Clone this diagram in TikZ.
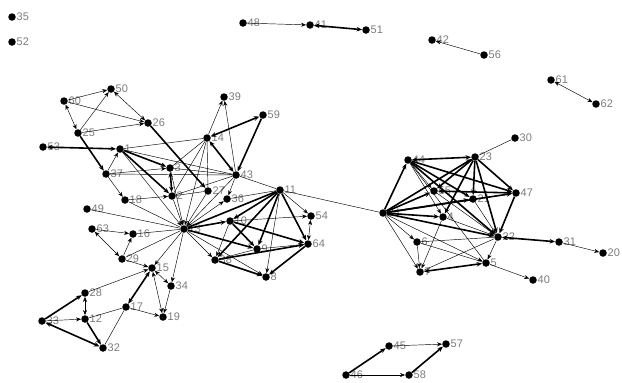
\documentclass[tikz,border=0pt]{standalone}
\usepackage{fontspec}
\setmainfont{Liberation Sans}
\usetikzlibrary{arrows.meta}
\definecolor{labgray}{RGB}{125,125,125}
\begin{document}
\begin{tikzpicture}[x=1pt,y=-1pt,
  dot/.style={circle,fill=black,inner sep=0pt,minimum size=7.5pt},
  lab/.style={text=labgray,font=\fontsize{11}{11}\selectfont,inner sep=0.5pt},
  e/.style={-{Stealth[length=5pt,width=4pt]},line width=0.45pt},
  eb/.style={{Stealth[length=5pt,width=4pt]}-{Stealth[length=5pt,width=4pt]},line width=0.45pt},
  l/.style={line width=0.45pt},
  t/.style={-{Stealth[length=5.5pt,width=4.5pt]},line width=1.6pt},
  tb/.style={{Stealth[length=5.5pt,width=4.5pt]}-{Stealth[length=5.5pt,width=4.5pt]},line width=1.6pt},
  tl/.style={line width=1.6pt}]
\useasboundingbox (0,0) rectangle (622,383);
\fill[white] (0,0) rectangle (622,383);
% nodes
\foreach \n/\x/\y in {35/12/17,52/12/42,48/243/23,41/310/25,51/366/30,42/432/40,56/484/55,61/551/80,62/596/104,
 50/111/89,60/64/101,25/78/133,26/148/123,53/43/147,1/120/149,14/207/138,39/224/97,59/263/115,43/236/175,37/106/174,
 3/170/168,2/172/196,18/125/200,27/208/191,36/227/199,11/280/190,13/184/229,10/230/221,9/257/249,38/215/260,8/266/277,
 54/311/216,64/308/244,49/87/209,63/92/229,16/133/234,29/122/259,15/152/268,34/171/286,28/85/293,17/126/307,19/163/317,
 12/85/319,33/42/321,32/103/348,44/408/160,23/475/157,30/515/138,47/516/193,55/434/191,21/473/199,24/383/213,4/443/217,
 22/498/237,6/417/242,7/420/272,5/486/263,31/559/242,20/603/253,40/533/280,45/389/346,57/446/344,46/346/375,58/409/375}
 {\node[dot,label={[lab,label distance=0pt]right:\n}] (n\n) at (\x,\y) {};}
% top
\draw[e] (n48) -- (n41);
\draw[tb] (n41) -- (n51);
\draw[e] (n56) -- (n42);
\draw[eb] (n61) -- (n62);
% left cluster
\draw[e] (n60) -- (n50);
\draw[e] (n25) -- (n50);
\draw[eb] (n60) -- (n25);
\draw[eb] (n50) -- (n26);
\draw[e] (n60) -- (n26);
\draw[e] (n25) -- (n26);
\draw[tb] (n53) -- (n1);
\draw[t] (n25) -- (n37);
\draw[e] (n37) -- (n18);
\draw[e] (n37) -- (n1);
\draw[l] (n1) -- (n14);
\draw[l] (n1) -- (n43);
\draw[t] (n1) -- (n3);
\draw[t] (n1) -- (n2);
\draw[e] (n1) -- (n13);
\draw[e] (n37) -- (n3);
\draw[l] (n37) -- (n43);
\draw[t] (n26) -- (n27);
\draw[e] (n14) -- (n39);
\draw[e] (n43) -- (n39);
\draw[tb] (n14) -- (n59);
\draw[t] (n59) -- (n43);
\draw[tb] (n14) -- (n43);
\draw[l] (n14) -- (n2);
\draw[l] (n14) -- (n3);
\draw[e] (n14) -- (n13);
\draw[l] (n14) -- (n27);
\draw[l] (n43) -- (n3);
\draw[l] (n43) -- (n2);
\draw[e] (n43) -- (n36);
\draw[l] (n43) -- (n11);
\draw[e] (n43) -- (n13);
\draw[tb] (n3) -- (n2);
\draw[e] (n18) -- (n2);
\draw[l] (n18) -- (n13);
\draw[e] (n2) -- (n13);
\draw[l] (n2) -- (n27);
\draw[l] (n27) -- (n13);
\draw[e] (n3) -- (n13);
% hub 13
\draw[l] (n49) -- (n13);
\draw[l] (n16) -- (n13);
\draw[l] (n29) -- (n13);
\draw[e] (n13) -- (n15);
\draw[e] (n13) -- (n34);
\draw[e] (n13) -- (n36);
\draw[tl] (n13) -- (n11);
\draw[t] (n13) -- (n10);
\draw[e] (n13) -- (n38);
\draw[t] (n13) -- (n9);
\draw[e] (n13) -- (n8);
% 11 cluster
\draw[e] (n11) -- (n54);
\draw[t] (n11) -- (n64);
\draw[t] (n11) -- (n10);
\draw[t] (n11) -- (n38);
\draw[t] (n11) -- (n9);
\draw[e] (n11) -- (n8);
\draw[l] (n11) -- (n24);
\draw[l] (n36) -- (n11);
\draw[e] (n10) -- (n54);
\draw[t] (n10) -- (n9);
\draw[t] (n10) -- (n64);
\draw[e] (n10) -- (n38);
\draw[t] (n38) -- (n64);
\draw[t] (n38) -- (n8);
\draw[l] (n38) -- (n9);
\draw[e] (n9) -- (n64);
\draw[eb] (n54) -- (n64);
\draw[t] (n64) -- (n8);
% lower left
\draw[e] (n63) -- (n16);
\draw[eb] (n63) -- (n29);
\draw[e] (n29) -- (n16);
\draw[e] (n28) -- (n15);
\draw[eb] (n15) -- (n34);
\draw[eb] (n15) -- (n19);
\draw[tb] (n15) -- (n17);
\draw[e] (n29) -- (n15);
\draw[e] (n34) -- (n19);
\draw[e] (n17) -- (n19);
\draw[l] (n12) -- (n17);
\draw[l] (n17) -- (n32);
\draw[eb] (n28) -- (n12);
\draw[t] (n33) -- (n28);
\draw[e] (n33) -- (n12);
\draw[tb] (n33) -- (n32);
\draw[t] (n12) -- (n32);
% right cluster
\draw[l] (n30) -- (n23);
\draw[tb] (n44) -- (n23);
\draw[t] (n44) -- (n47);
\draw[t] (n44) -- (n22);
\draw[e] (n44) -- (n55);
\draw[t] (n44) -- (n21);
\draw[e] (n44) -- (n4);
\draw[t] (n23) -- (n47);
\draw[t] (n23) -- (n22);
\draw[t] (n23) -- (n21);
\draw[t] (n23) -- (n55);
\draw[t] (n23) -- (n4);
\draw[tb] (n55) -- (n47);
\draw[e] (n55) -- (n22);
\draw[l] (n21) -- (n47);
\draw[e] (n21) -- (n22);
\draw[t] (n24) -- (n44);
\draw[t] (n24) -- (n23);
\draw[t] (n24) -- (n55);
\draw[t] (n24) -- (n21);
\draw[t] (n24) -- (n47);
\draw[t] (n24) -- (n4);
\draw[t] (n24) -- (n22);
\draw[e] (n24) -- (n6);
\draw[e] (n24) -- (n7);
\draw[e] (n24) -- (n5);
\draw[e] (n4) -- (n22);
\draw[e] (n4) -- (n7);
\draw[tb] (n22) -- (n31);
\draw[e] (n31) -- (n20);
\draw[e] (n22) -- (n5);
\draw[e] (n5) -- (n40);
\draw[tb] (n5) -- (n7);
\draw[e] (n6) -- (n7);
\draw[l] (n6) -- (n5);
\draw[l] (n22) -- (n6);
\draw[l] (n22) -- (n7);
\draw[t] (n47) -- (n22);
\draw[l] (n44) -- (n5);
% bottom
\draw[t] (n46) -- (n45);
\draw[e] (n45) -- (n57);
\draw[e] (n46) -- (n58);
\draw[t] (n58) -- (n57);
\end{tikzpicture}
\end{document}
